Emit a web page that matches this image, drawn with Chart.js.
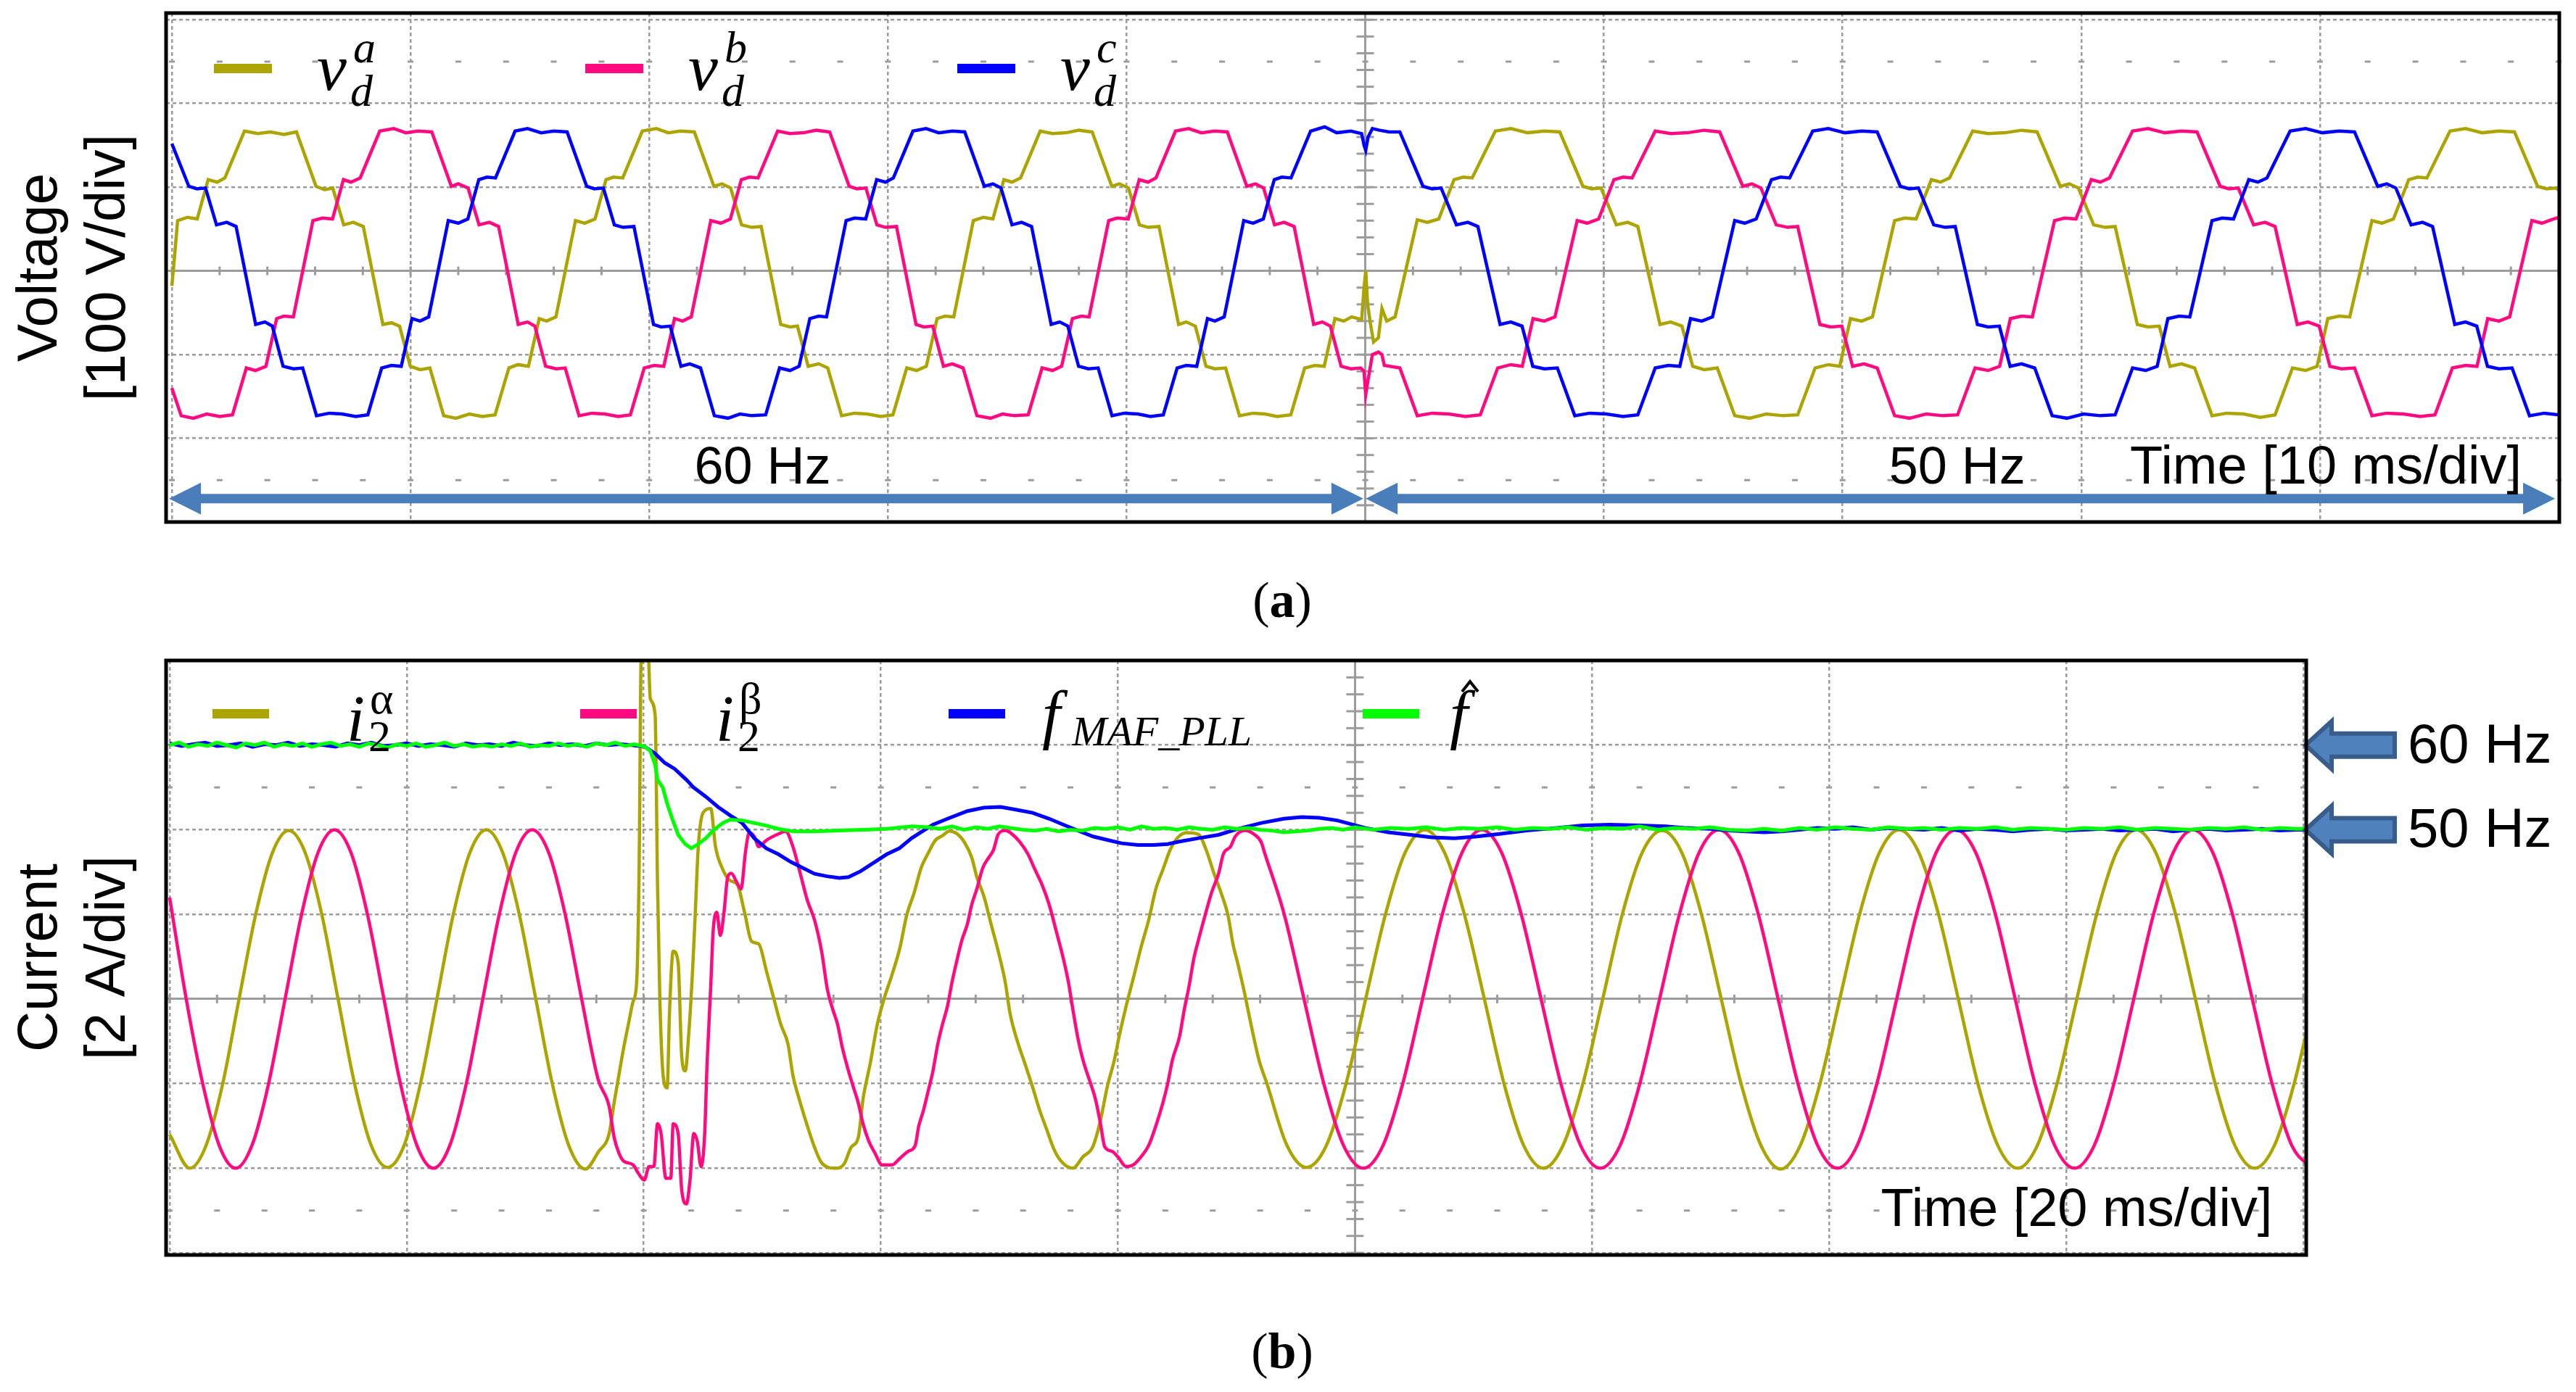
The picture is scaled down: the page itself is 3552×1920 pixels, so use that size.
<!DOCTYPE html>
<html>
<head>
<meta charset="utf-8">
<script src="https://cdn.jsdelivr.net/npm/chart.js@4.4.0/dist/chart.umd.min.js"></script>
<style>
  html, body { margin: 0; padding: 0; background: #fff; }
  body { width: 3552px; height: 1920px; position: relative; overflow: hidden; }
  #wrapA { position: absolute; left: 0; top: 0; width: 3552px; height: 745px; }
  #wrapB { position: absolute; left: 0; top: 880px; width: 3552px; height: 880px; }
  .cap { position: absolute; left: 1618px; width: 300px; text-align: center; font-family: "Liberation Serif"; font-size: 70px; line-height: 70px; color: #000; }
</style>
</head>
<body>
<div id="wrapA"><canvas id="chartA" width="3552" height="745"></canvas></div>
<div class="cap" style="top:793px">(<b>a</b>)</div>
<div id="wrapB"><canvas id="chartB" width="3552" height="880"></canvas></div>
<div class="cap" style="top:1829px">(<b>b</b>)</div>
<script>
// ---- panel (a): grid voltages, 10 ms/div, 100 V/div ----
const voltTicksX = [0, 10, 20, 30, 40, 50, 60, 70, 80, 90, 100];
const voltTicksY = [-300, -200, -100, 0, 100, 200, 300];
const segLabels = ['60 Hz', '50 Hz'];

// [time ms, volts]
const vdA = [[0,-18],[0.12,20],[0.24,60],[0.65,64],[1.06,62],[1.52,109],[1.9,106],[2.22,111],[3.04,167],[3.6,164],[4.13,166],[4.7,163],[5.22,166],[6.04,101],[6.4,97],[6.74,99],[7.2,55],[7.6,58],[8.02,53],[8.84,-64],[9.2,-62],[9.54,-66],[9.99,-114],[10.4,-118],[10.81,-116],[11.39,-173],[11.9,-176],[12.46,-171],[13,-174],[13.54,-172],[14.12,-116],[14.5,-112],[14.94,-114],[15.39,-57],[15.7,-60],[16.09,-55],[16.91,60],[17.3,57],[17.73,62],[18.19,109],[18.5,112],[18.89,111],[19.71,167],[20.3,170],[20.8,165],[21.3,167],[21.89,166],[22.71,101],[23.05,104],[23.41,99],[23.87,55],[24.3,52],[24.69,53],[25.51,-64],[25.9,-67],[26.21,-66],[26.66,-114],[27.1,-111],[27.48,-116],[28.06,-173],[28.6,-170],[29.13,-171],[29.7,-174],[30.21,-172],[30.79,-116],[31.2,-119],[31.61,-114],[32.06,-57],[32.4,-54],[32.76,-55],[33.58,60],[34,64],[34.4,62],[34.86,109],[35.2,106],[35.56,111],[36.38,167],[36.9,164],[37.47,165],[38,168],[38.56,166],[39.38,101],[39.7,104],[40.08,99],[40.54,55],[40.9,52],[41.36,53],[42.18,-64],[42.5,-61],[42.88,-66],[43.33,-114],[43.7,-117],[44.15,-116],[44.73,-173],[45.3,-170],[45.8,-171],[46.3,-174],[46.88,-172],[47.46,-116],[47.9,-113],[48.28,-114],[48.73,-57],[49.1,-60],[49.43,-55],[49.85,-58],[49.95,-20],[50.02,0],[50.1,-40],[50.2,-60],[50.35,-85],[50.55,-80],[50.7,-45],[50.9,-60],[51.25,-55],[52.18,61],[52.6,58],[53.08,62],[53.72,109],[54.1,112],[54.48,111],[55.45,167],[56.1,170],[56.8,165],[57.5,167],[58.15,166],[59.12,101],[59.5,98],[59.88,99],[60.52,55],[61,58],[61.42,53],[62.35,-64],[62.8,-61],[63.27,-66],[63.72,-114],[64.2,-118],[64.75,-116],[65.48,-173],[66.1,-176],[66.8,-171],[67.5,-173],[68.12,-172],[68.85,-116],[69.4,-112],[69.88,-114],[70.33,-57],[70.8,-60],[71.25,-55],[72.18,60],[72.6,63],[73.08,62],[73.72,109],[74.1,106],[74.48,111],[75.45,167],[76.1,164],[76.8,165],[77.5,168],[78.15,166],[79.12,101],[79.5,104],[79.88,99],[80.52,55],[81,52],[81.42,53],[82.35,-64],[82.8,-67],[83.27,-66],[83.72,-114],[84.2,-111],[84.75,-116],[85.48,-173],[86.1,-170],[86.8,-171],[87.5,-175],[88.12,-172],[88.85,-116],[89.4,-119],[89.88,-114],[90.33,-57],[90.8,-54],[91.25,-55],[92.18,60],[92.6,57],[93.08,62],[93.72,109],[94.1,112],[94.48,111],[95.45,167],[96.1,170],[96.8,165],[97.5,167],[98.15,166],[99.12,101],[99.5,98],[99.88,99],[100.03,96]];

const vdB = [[0,-140],[0.39,-173],[0.9,-176],[1.46,-171],[2,-174],[2.54,-172],[3.12,-116],[3.5,-119],[3.94,-114],[4.39,-57],[4.7,-54],[5.09,-55],[5.91,60],[6.3,63],[6.73,62],[7.19,109],[7.5,106],[7.89,111],[8.71,167],[9.3,170],[9.8,165],[10.3,167],[10.89,166],[11.71,101],[12,104],[12.41,99],[12.87,55],[13.3,58],[13.69,53],[14.51,-64],[14.9,-61],[15.21,-66],[15.66,-114],[16.1,-117],[16.48,-116],[17.06,-173],[17.6,-170],[18.13,-171],[18.7,-174],[19.21,-172],[19.79,-116],[20.2,-113],[20.61,-114],[21.06,-57],[21.4,-60],[21.76,-55],[22.58,60],[23,57],[23.4,62],[23.86,109],[24.2,112],[24.56,111],[25.38,167],[25.9,164],[26.47,165],[27,168],[27.56,166],[28.38,101],[28.7,98],[29.08,99],[29.54,55],[29.9,52],[30.36,53],[31.18,-64],[31.5,-67],[31.88,-66],[32.33,-114],[32.7,-111],[33.15,-116],[33.73,-173],[34.3,-176],[34.8,-171],[35.3,-173],[35.88,-172],[36.46,-116],[36.9,-119],[37.28,-114],[37.73,-57],[38.1,-54],[38.43,-55],[39.25,60],[39.6,63],[40.07,62],[40.53,109],[40.9,106],[41.23,111],[42.05,167],[42.6,170],[43.13,165],[43.7,167],[44.22,166],[45.04,101],[45.4,104],[45.74,99],[46.2,55],[46.6,58],[47.02,53],[47.84,-64],[48.2,-61],[48.54,-66],[48.99,-114],[49.4,-117],[49.81,-116],[49.95,-120],[50.02,-148],[50.12,-130],[50.3,-100],[50.55,-97],[50.7,-100],[50.8,-113],[51.45,-116],[52.18,-173],[52.8,-170],[53.5,-171],[54.2,-174],[54.82,-172],[55.55,-116],[56.1,-112],[56.58,-114],[57.03,-57],[57.5,-60],[57.95,-55],[58.88,60],[59.3,57],[59.78,62],[60.42,109],[60.8,112],[61.18,111],[62.15,167],[62.8,164],[63.5,165],[64.2,168],[64.85,166],[65.82,101],[66.2,104],[66.58,99],[67.22,55],[67.7,52],[68.12,53],[69.05,-64],[69.5,-67],[69.97,-66],[70.42,-114],[70.9,-111],[71.45,-116],[72.18,-173],[72.8,-176],[73.5,-171],[74.2,-173],[74.82,-172],[75.55,-116],[76.1,-119],[76.58,-114],[77.03,-57],[77.5,-54],[77.95,-55],[78.88,60],[79.3,63],[79.78,62],[80.42,109],[80.8,106],[81.18,111],[82.15,167],[82.8,170],[83.5,165],[84.2,167],[84.85,166],[85.82,101],[86.2,98],[86.58,99],[87.22,55],[87.7,58],[88.12,53],[89.05,-64],[89.5,-61],[89.97,-66],[90.42,-114],[90.9,-117],[91.45,-116],[92.18,-173],[92.8,-170],[93.5,-171],[94.2,-174],[94.82,-172],[95.55,-116],[96.1,-113],[96.58,-114],[97.03,-57],[97.5,-60],[97.95,-55],[98.88,60],[99.3,57],[99.78,62],[100.03,64]];

const vdC = [[0,152],[0.71,101],[1.05,98],[1.41,99],[1.87,55],[2.3,58],[2.69,53],[3.51,-64],[3.9,-61],[4.21,-66],[4.66,-114],[5.1,-117],[5.48,-116],[6.06,-173],[6.6,-170],[7.13,-171],[7.7,-174],[8.21,-172],[8.79,-116],[9.2,-113],[9.61,-114],[10.06,-57],[10.4,-60],[10.76,-55],[11.58,60],[12,57],[12.4,62],[12.86,109],[13.2,112],[13.56,111],[14.38,167],[14.9,170],[15.47,165],[16,167],[16.56,166],[17.38,101],[17.7,98],[18.08,99],[18.54,55],[18.9,52],[19.36,53],[20.18,-64],[20.5,-67],[20.88,-66],[21.33,-114],[21.7,-111],[22.15,-116],[22.73,-173],[23.3,-176],[23.8,-171],[24.3,-173],[24.88,-172],[25.46,-116],[25.9,-119],[26.28,-114],[26.73,-57],[27.1,-54],[27.43,-55],[28.25,60],[28.6,63],[29.07,62],[29.53,109],[29.9,106],[30.23,111],[31.05,167],[31.6,170],[32.13,165],[32.7,167],[33.22,166],[34.04,101],[34.4,104],[34.74,99],[35.2,55],[35.6,58],[36.02,53],[36.84,-64],[37.2,-61],[37.54,-66],[37.99,-114],[38.4,-117],[38.81,-116],[39.39,-173],[39.9,-170],[40.47,-171],[41,-174],[41.54,-172],[42.12,-116],[42.5,-113],[42.94,-114],[43.39,-57],[43.7,-60],[44.09,-55],[44.91,60],[45.3,57],[45.73,62],[46.19,109],[46.5,112],[46.89,111],[47.71,167],[48.3,172],[48.8,165],[49.4,167],[49.85,164],[49.95,150],[50.02,144],[50.12,160],[50.3,170],[50.6,168],[51,166],[51.45,166],[52.42,101],[52.8,98],[53.18,99],[53.82,55],[54.3,58],[54.72,53],[55.65,-64],[56.1,-61],[56.57,-66],[57.02,-114],[57.5,-117],[58.05,-116],[58.78,-173],[59.4,-170],[60.1,-171],[60.8,-174],[61.42,-172],[62.15,-116],[62.7,-113],[63.18,-114],[63.63,-57],[64.1,-60],[64.55,-55],[65.48,60],[65.9,57],[66.38,62],[67.02,109],[67.4,112],[67.78,111],[68.75,167],[69.4,170],[70.1,165],[70.8,167],[71.45,166],[72.42,101],[72.8,98],[73.18,99],[73.82,55],[74.3,52],[74.72,53],[75.65,-64],[76.1,-67],[76.57,-66],[77.02,-114],[77.5,-111],[78.05,-116],[78.78,-173],[79.4,-176],[80.1,-171],[80.8,-173],[81.42,-172],[82.15,-116],[82.7,-119],[83.18,-114],[83.63,-57],[84.1,-54],[84.55,-55],[85.48,60],[85.9,63],[86.38,62],[87.02,109],[87.4,106],[87.78,111],[88.75,167],[89.4,170],[90.1,165],[90.8,167],[91.45,166],[92.42,101],[92.8,104],[93.18,99],[93.82,55],[94.3,58],[94.72,53],[95.65,-64],[96.1,-61],[96.57,-66],[97.02,-114],[97.5,-117],[98.05,-116],[98.78,-173],[99.4,-170],[100.03,-172]];

// ---- panel (b): currents 2 A/div, frequencies 10 Hz/div, 20 ms/div ----
const curTicksX = [0, 20, 40, 60, 80, 100, 120, 140, 160, 180];
const curTicksY = [-6, -4, -2, 0, 2, 4, 6, 8];
const freqMarks = [60, 50];

// [time ms, amps]
const i2Alpha = [[0,-3.2],[1.7,-4],[3.09,-3.45],[4.48,-2],[5.87,0.02],[7.26,2],[8.65,3.44],[10.04,3.98],[11.43,3.46],[12.82,2.02],[14.21,0],[15.6,-2],[16.99,-3.45],[18.38,-3.98],[19.77,-3.47],[21.16,-2],[22.55,0],[23.94,2.01],[25.33,3.46],[26.72,4],[28.11,3.45],[29.5,2],[30.89,0],[32.28,-2],[33.67,-3.46],[35.06,-4.02],[36.2,-3.6],[37.08,-3.18],[37.5,-2.45],[37.9,-1.8],[38.3,-1.16],[38.7,-0.6],[39.1,-0.06],[39.4,0.4],[39.6,2.9],[39.8,8.3],[40.35,8.3],[40.55,7.1],[40.96,6.7],[41.16,2.7],[41.36,-0.06],[41.67,-1.9],[41.97,-2.1],[42.18,-0.25],[42.48,1.13],[42.9,0.86],[43.2,-1.35],[43.5,-1.7],[43.8,-0.8],[44.1,0.58],[44.32,1.87],[44.6,3.6],[45,4.4],[45.65,4.5],[46.05,3.6],[46.67,3.06],[47.28,2.8],[47.9,2.7],[48.5,2.05],[49.1,1.36],[49.7,1.3],[50.34,0.67],[50.95,0.03],[51.56,-0.6],[52.17,-1.07],[52.58,-1.8],[53.2,-2.45],[53.8,-3],[54.4,-3.5],[55,-3.87],[56.15,-4],[56.9,-3.9],[57.5,-3.5],[58.1,-3.27],[58.5,-2.36],[59.1,-1.53],[59.7,-0.6],[60.3,0.03],[60.95,0.58],[61.6,1.2],[62.2,2],[62.8,2.5],[63.4,3.1],[64,3.45],[64.6,3.75],[65.2,3.86],[65.8,3.97],[66.45,3.9],[67.06,3.7],[67.67,3.34],[68.1,2.88],[68.7,2.42],[69.3,1.77],[69.9,1.13],[70.5,0.39],[70.9,-0.34],[71.5,-0.98],[72.16,-1.53],[72.8,-2.08],[73.4,-2.63],[74,-3.09],[74.6,-3.55],[75.2,-3.83],[76.2,-4],[77.05,-3.73],[77.87,-3.5],[78.5,-2.9],[79.1,-2.08],[79.7,-1.44],[80.1,-0.89],[80.7,-0.16],[81.3,0.49],[81.95,1.22],[82.6,1.87],[83.2,2.6],[83.8,3.06],[84.4,3.52],[85,3.8],[85.8,3.93],[86.8,3.89],[87.45,3.52],[88.1,2.97],[88.7,2.51],[89.3,1.96],[89.7,1.31],[90.1,0.85],[90.7,0.12],[91.1,-0.43],[91.9,-1.44],[92.57,-2],[94.23,-3.44],[95.9,-3.98],[97.57,-3.47],[99.23,-2.02],[100.9,0],[102.57,2],[104.23,3.46],[105.9,4],[107.57,3.45],[109.23,2],[110.9,0.02],[112.57,-2],[114.23,-3.46],[115.9,-4],[117.57,-3.45],[119.23,-2],[120.9,0],[122.57,2.02],[124.23,3.46],[125.9,3.98],[127.57,3.46],[129.23,2],[130.9,0],[132.57,-2],[134.23,-3.45],[135.9,-4.02],[137.57,-3.46],[139.23,-2],[140.9,0],[142.57,2],[144.23,3.45],[145.9,4],[147.57,3.46],[149.23,2],[150.9,0],[152.57,-2.02],[154.23,-3.46],[155.9,-4],[157.57,-3.46],[159.23,-2],[160.9,0],[162.57,2],[164.23,3.46],[165.9,4],[167.57,3.45],[169.23,2],[170.9,0],[172.57,-2],[174.23,-3.46],[175.9,-4],[177.57,-3.46],[179.23,-2],[180.9,0]];

const i2Beta = [[0,2.4],[1.4,0],[2.79,-2],[4.18,-3.46],[5.57,-4],[6.96,-3.45],[8.35,-2],[9.74,0],[11.13,2],[12.52,3.46],[13.91,4],[15.3,3.46],[16.69,2],[18.08,0],[19.47,-2],[20.86,-3.46],[22.25,-4],[23.64,-3.46],[25.03,-2],[26.42,0],[27.81,2],[29.2,3.46],[30.59,4],[31.98,3.46],[33.37,2],[34.76,0],[36.15,-1.9],[37.08,-2.54],[37.5,-3.27],[37.9,-3.64],[38.3,-3.83],[39.1,-3.92],[39.5,-4.1],[40.04,-4.28],[40.45,-3.96],[40.85,-3.96],[41.16,-2.95],[41.46,-3.18],[41.87,-4.24],[42.28,-4.24],[42.48,-2.95],[42.9,-3.18],[43.2,-4.51],[43.6,-4.84],[43.9,-4.28],[44.22,-3.18],[44.52,-3.37],[44.83,-3.96],[45.14,-3.18],[45.34,-1.53],[45.65,0.3],[45.85,1.59],[46.16,2.05],[46.46,1.5],[46.77,2.05],[47.08,2.88],[47.38,2.97],[47.79,2.79],[48.2,2.6],[48.6,3.52],[48.9,3.93],[49.32,3.84],[49.7,3.6],[50.34,3.75],[51.36,3.9],[51.97,3.96],[52.58,3.6],[53.2,2.97],[53.8,2.33],[54.4,1.87],[55,1.13],[55.5,0.21],[55.95,-0.25],[56.35,-0.6],[56.76,-1.16],[57.27,-1.7],[57.68,-2.08],[58.09,-2.45],[58.5,-2.95],[59,-3.37],[59.5,-3.64],[60.1,-3.92],[60.95,-3.92],[61.56,-3.78],[62.3,-3.6],[62.9,-3.46],[63.2,-3],[63.6,-2.63],[64,-2.17],[64.4,-1.7],[64.8,-1.07],[65.2,-0.6],[65.63,-0.16],[66,0.39],[66.45,0.95],[66.85,1.4],[67.3,1.77],[67.67,2.23],[68.1,2.6],[68.6,3.1],[69.1,3.34],[69.5,3.52],[69.9,3.89],[70.5,3.98],[71.1,3.89],[71.75,3.7],[72.4,3.43],[73,3.06],[73.6,2.7],[74.2,2.23],[74.8,1.6],[75.4,0.95],[75.83,0.39],[76.2,-0.25],[76.6,-0.89],[77.05,-1.44],[77.7,-2],[78.1,-2.36],[78.5,-2.9],[78.9,-3.5],[79.5,-3.6],[80,-3.73],[80.7,-3.96],[81.3,-3.92],[81.95,-3.73],[82.6,-3.46],[83.2,-3],[83.8,-2.45],[84.2,-2],[84.6,-1.44],[85.2,-0.89],[85.6,-0.25],[86,0.3],[86.4,0.95],[86.8,1.4],[87.25,1.87],[87.9,2.51],[88.5,2.97],[88.9,3.43],[89.5,3.6],[89.9,3.84],[90.7,3.98],[91.5,3.89],[92.1,3.7],[92.37,3.46],[94.03,2],[95.7,0],[97.37,-2],[99.03,-3.46],[100.7,-4],[102.37,-3.46],[104.03,-2],[105.7,0],[107.37,2],[109.03,3.46],[110.7,4],[112.37,3.46],[114.03,2],[115.7,0],[117.37,-2],[119.03,-3.46],[120.7,-4],[122.37,-3.46],[124.03,-2],[125.7,0],[127.37,2],[129.03,3.46],[130.7,4],[132.37,3.46],[134.03,2],[135.7,0],[137.37,-2],[139.03,-3.46],[140.7,-4],[142.37,-3.46],[144.03,-2],[145.7,0],[147.37,2],[149.03,3.46],[150.7,4],[152.37,3.46],[154.03,2],[155.7,0],[157.37,-2],[159.03,-3.46],[160.7,-4],[162.37,-3.46],[164.03,-2],[165.7,0],[167.37,2],[169.03,3.46],[170.7,4],[172.37,3.46],[174.03,2],[175.7,0],[177.37,-2],[179.03,-3.46],[180.7,-4]];

// [time ms, Hz]
const fMafPll = [[0,60.2],[1,59.9],[2,60.1],[3,60.3],[4,59.9],[5,60],[6,60.2],[7,59.8],[8,60.1],[9,60],[10,60.3],[11,59.9],[12,60.1],[13,60],[14,59.8],[15,60.2],[16,60],[17,60.3],[18,59.9],[19,60],[20,60.2],[21,59.9],[22,60.1],[23,60],[24,59.8],[25,60.2],[26,60],[27,60.1],[28,59.9],[29,60.3],[30,60],[31,59.9],[32,60.2],[33,60],[34,60.1],[35,59.9],[36,60.2],[37,60],[38,60.1],[39,60],[40.1,59.8],[40.96,59],[41.77,57.9],[42.6,57.2],[43.6,55.9],[44.2,55],[45.24,53.9],[46.26,52.7],[47.28,51.7],[48.3,50.8],[49.32,49],[50.34,47.8],[51.36,47.1],[52.4,46.2],[53.4,45.5],[54.4,44.8],[55.44,44.5],[56.5,44.3],[57.27,44.4],[58.3,45.1],[59.5,46.2],[60.5,47.1],[61.56,47.8],[62.6,49],[63.6,49.9],[64.4,50.6],[65.63,51.3],[67.3,52.2],[68.7,52.6],[70.1,52.7],[71.3,52.4],[72.8,52],[74.2,51.3],[75.4,50.6],[76.8,49.8],[77.9,49.2],[79.1,48.8],[80.3,48.4],[81.7,48.2],[83,48.2],[84.2,48.3],[85.2,48.6],[86.8,49],[88.5,49.4],[90.1,50.1],[92.1,50.8],[94,51.3],[95.5,51.5],[97,51.4],[98.5,51.1],[100.9,50.2],[102.8,49.7],[104.7,49.4],[106.5,49.1],[108.4,49],[110.3,49.2],[112.2,49.5],[114.5,49.9],[116.9,50.2],[119.2,50.5],[121.5,50.6],[124,50.5],[126.2,50.4],[128,50.2],[130,50.1],[131.5,49.9],[133,49.8],[134.5,49.7],[136,49.8],[137.5,50],[139,50.2],[140.5,50.1],[142,50.3],[143.5,50],[145,50.2],[146.5,50.1],[148,50],[149.5,50.2],[151,49.9],[152.5,50.1],[154,50],[155.5,49.8],[157,50],[158.5,50.1],[160,49.9],[161.5,50],[163,50.1],[164.5,49.9],[166,50],[167.5,50.1],[169,49.8],[170.5,50],[172,50.1],[173.5,49.9],[175,50],[176.5,50.1],[178,49.9],[179.5,50],[180.25,50]];

const fHat = [[0,60],[0.8,60.3],[1.6,59.8],[2.4,60.1],[3.2,59.9],[4,60.3],[4.8,60],[5.6,59.7],[6.4,60.2],[7.2,60],[8,60.3],[8.8,59.8],[9.6,60.1],[10.4,59.9],[11.2,60.2],[12,59.8],[12.8,60.1],[13.6,60.3],[14.4,59.9],[15.2,60.1],[16,59.8],[16.8,60.2],[17.6,60],[18.4,59.7],[19.2,60.1],[20,59.9],[20.8,60.2],[21.6,59.8],[22.4,60],[23.2,60.3],[24,59.9],[24.8,60.1],[25.6,59.8],[26.4,60],[27.2,59.8],[28,60.1],[28.8,59.9],[29.6,60.2],[30.4,59.8],[31.2,60],[32,59.9],[32.8,60.2],[33.6,59.9],[34.4,60.1],[35.2,59.8],[36,60.2],[36.8,60],[37.6,60.3],[38.4,59.9],[39.2,60.1],[40.1,59.8],[40.55,59.3],[40.96,57.7],[41.16,55.9],[41.6,55],[41.97,53.1],[42.4,51.3],[42.9,49.4],[43.5,48.3],[44,47.8],[44.6,48.3],[45.24,49],[45.85,49.9],[46.67,50.8],[47.28,51.2],[48.3,51.1],[49.3,50.8],[50.3,50.5],[51.36,50.1],[52.58,49.8],[54.4,49.8],[56.5,49.9],[58.5,50],[60.5,50.1],[62.6,50.4],[64,50.3],[65,50.1],[66,50.4],[67,50],[68,50.3],[69,50.1],[70,50.4],[71,50.2],[72,50],[73,49.9],[74,50.1],[75,49.8],[76,50],[77,49.9],[78,50.2],[79,50.1],[80,50.3],[81,50],[82,50.4],[83,50.1],[84,50.2],[85,50],[86,50.3],[87,50.1],[88,50],[89,50.3],[90,50.1],[91,50.2],[92,50],[93,49.9],[94,49.7],[95,49.8],[96,49.9],[97,50.1],[98,50.2],[99,50],[100,50.3],[101.5,50],[103,50.2],[104.5,50.1],[106,50.3],[107.5,50],[109,50.2],[110.5,50.1],[112,50.3],[113.5,50],[115,50.2],[116.5,50.1],[118,50.3],[119.5,50],[121,50.2],[122.5,50.1],[124,50.4],[125.5,50],[127,50.2],[128.5,50.1],[130,50.3],[131.5,50],[133,49.9],[134.5,50.1],[136,49.9],[137.5,50.2],[139,50],[140.5,50.3],[142,50.1],[143.5,50],[145,50.3],[146.5,50.1],[148,50.2],[149.5,50],[151,50.2],[152.5,50.1],[154,50.3],[155.5,50],[157,50.2],[158.5,50.1],[160,50],[161.5,50.2],[163,50.1],[164.5,50.3],[166,50],[167.5,50.2],[169,50.1],[170.5,50],[172,50.2],[173.5,50.1],[175,50.3],[176.5,50],[178,50.2],[179.5,50.1],[180.25,50.1]];

const OLIVE = '#aca400';
const PINK = '#ff0a80';
const BLUE = '#0000ff';
const GREEN = '#00ff00';
const GRID = '#9c9c9c';

const toXY = (arr) => arr.map(([x, y]) => ({ x, y }));
const setTicks = (vals) => (s) => { s.ticks = vals.map(v => ({ value: v })); };

const gridOpts = (mid) => ({
  color: GRID,
  lineWidth: (c) => (c.tick && c.tick.value === mid ? 3 : 2.5),
  drawTicks: false,
});
const borderOpts = (mid) => ({
  display: false,
  dash: (c) => (c.tick && c.tick.value === mid ? [] : [5, 4]),
});

// black screen frame
const frame = {
  id: 'frame',
  afterDraw(chart) {
    const { ctx, chartArea: a } = chart;
    ctx.save();
    ctx.strokeStyle = '#000';
    ctx.lineWidth = 5;
    ctx.strokeRect(a.left, a.top, a.right - a.left, a.bottom - a.top);
    ctx.restore();
  }
};

// minor graticule marks of the scope
const graticule = {
  id: 'graticule',
  beforeDatasetsDraw(chart, args, o) {
    const { ctx, scales: { x, y } } = chart;
    const cx = x.getPixelForValue(o.xMid), cy = y.getPixelForValue(0);
    ctx.save();
    ctx.fillStyle = GRID;
    for (let k = Math.ceil(x.min / o.xMinor); k * o.xMinor <= x.max; k++) {
      const px = x.getPixelForValue(k * o.xMinor);
      ctx.fillRect(px - 1.5, cy - 6, 3, 12);
      o.rows.forEach(r => ctx.fillRect(px - 4, y.getPixelForValue(r) - 1.5, 8, 3));
    }
    for (let k = Math.ceil(y.min / o.yMinor); k * o.yMinor <= y.max; k++) {
      const py = y.getPixelForValue(k * o.yMinor);
      ctx.fillRect(cx - 12, py - 1.5, 24, 3);
    }
    ctx.restore();
  }
};

function dblArrow(ctx, x0, x1, y, shaft, hl, hh) {
  ctx.beginPath();
  ctx.moveTo(x0, y);
  ctx.lineTo(x0 + hl, y - hh);
  ctx.lineTo(x0 + hl, y - shaft / 2);
  ctx.lineTo(x1 - hl, y - shaft / 2);
  ctx.lineTo(x1 - hl, y - hh);
  ctx.lineTo(x1, y);
  ctx.lineTo(x1 - hl, y + hh);
  ctx.lineTo(x1 - hl, y + shaft / 2);
  ctx.lineTo(x0 + hl, y + shaft / 2);
  ctx.lineTo(x0 + hl, y + hh);
  ctx.closePath();
  ctx.fill();
}

// legend, section arrows and labels of panel (a)
const notesA = {
  id: 'notesA',
  afterDatasetsDraw(chart) {
    const { ctx, scales: { x, y } } = chart;
    ctx.save();
    // legend
    const sups = ['a', 'b', 'c'];
    const lx = [295, 807, 1320];
    chart.data.datasets.forEach((ds, i) => {
      ctx.fillStyle = ds.borderColor;
      ctx.fillRect(lx[i], 88, 80, 13);
      ctx.fillStyle = '#000';
      ctx.textBaseline = 'alphabetic';
      ctx.textAlign = 'left';
      ctx.font = 'italic 92px "Liberation Serif"';
      ctx.fillText('v', lx[i] + 142, 124);
      ctx.font = 'italic 62px "Liberation Serif"';
      ctx.fillText('d', lx[i] + 188, 146);
      ctx.fillText(sups[i], lx[i] + 192, 86);
    });
    // 60 Hz / 50 Hz spans
    const ay = y.getPixelForValue(-272);
    ctx.fillStyle = '#4a7ebb';
    dblArrow(ctx, x.getPixelForValue(-0.12), x.getPixelForValue(49.92), ay, 13, 44, 22);
    dblArrow(ctx, x.getPixelForValue(50.02), x.getPixelForValue(99.85), ay, 13, 44, 22);
    ctx.fillStyle = '#000';
    ctx.font = '72px "Liberation Sans"';
    ctx.textAlign = 'center';
    const ty = y.getPixelForValue(-254);
    ctx.fillText(segLabels[0], x.getPixelForValue(24.75), ty);
    ctx.fillText(segLabels[1], x.getPixelForValue(74.8), ty);
    ctx.textAlign = 'right';
    ctx.font = '74px "Liberation Sans"';
    ctx.fillText('Time [10 ms/div]', x.getPixelForValue(98.45), ty);
    ctx.restore();
  }
};

// legend, frequency markers and time label of panel (b)
const notesB = {
  id: 'notesB',
  afterDatasetsDraw(chart) {
    const { ctx, chartArea: a, scales: { x, y, y2 } } = chart;
    ctx.save();
    const lx = [293, 800, 1308, 1879];
    chart.data.datasets.forEach((ds, i) => {
      ctx.fillStyle = ds.borderColor;
      ctx.fillRect(lx[i], 98, 78, 13);
    });
    ctx.fillStyle = '#000';
    ctx.textAlign = 'left';
    ctx.textBaseline = 'alphabetic';
    [['\u03b1', 478], ['\u03b2', 987]].forEach(([g, px]) => {
      ctx.font = 'italic 90px "Liberation Serif"';
      ctx.fillText('i', px, 142);
      ctx.font = '62px "Liberation Serif"';
      ctx.fillText('2', px + 30, 156);
      ctx.fillText(g, px + 32, 104);
    });
    ctx.font = 'italic 90px "Liberation Serif"';
    ctx.fillText('f', 1437, 136);
    ctx.fillText('f', 1999, 136);
    ctx.font = 'italic 58px "Liberation Serif"';
    ctx.fillText('MAF_PLL', 1478, 148);
    ctx.lineWidth = 4;
    ctx.strokeStyle = '#000';
    ctx.beginPath();
    ctx.moveTo(2016, 74); ctx.lineTo(2027, 60); ctx.lineTo(2038, 74);
    ctx.stroke();
    // time label
    ctx.textAlign = 'right';
    ctx.font = '74px "Liberation Sans"';
    ctx.fillText('Time [20 ms/div]', x.getPixelForValue(177.4), y.getPixelForValue(-5.36));
    // 60 / 50 Hz markers on the right
    freqMarks.forEach(f => {
      const py = y2.getPixelForValue(f);
      const tip = a.right - 1;
      ctx.beginPath();
      ctx.moveTo(tip, py);
      ctx.lineTo(tip + 36, py - 33);
      ctx.lineTo(tip + 36, py - 16);
      ctx.lineTo(tip + 123, py - 16);
      ctx.lineTo(tip + 123, py + 16);
      ctx.lineTo(tip + 36, py + 16);
      ctx.lineTo(tip + 36, py + 33);
      ctx.closePath();
      ctx.fillStyle = '#4f81bd';
      ctx.fill();
      ctx.strokeStyle = '#385d8a';
      ctx.lineWidth = 6;
      ctx.stroke();
      ctx.fillStyle = '#000';
      ctx.font = '76px "Liberation Sans"';
      ctx.textAlign = 'left';
      ctx.textBaseline = 'middle';
      ctx.fillText(f + ' Hz', tip + 141, py + 3);
    });
    ctx.restore();
  }
};

const trace = (label, data, color, order, extra) => Object.assign({
  label, data: toXY(data), borderColor: color, backgroundColor: color,
  borderWidth: 4.5, pointRadius: 0, tension: 0, order,
}, extra || {});

const axisTitle = (text) => ({
  display: true, text, color: '#000',
  font: { family: 'Liberation Sans', size: 78 },
  padding: { top: 10, bottom: 0 },
});

new Chart(document.getElementById('chartA'), {
  type: 'line',
  data: {
    datasets: [
      trace('v_d^a', vdA, OLIVE, 2),
      trace('v_d^b', vdB, PINK, 1),
      trace('v_d^c', vdC, BLUE, 0),
    ],
  },
  options: {
    responsive: false, animation: false, devicePixelRatio: 1,
    layout: { padding: { top: 18, right: 23, bottom: 25, left: 0 } },
    plugins: {
      legend: { display: false }, tooltip: { enabled: false },
      graticule: { xMid: 50, xMinor: 2, yMinor: 20, rows: [-250, 250] },
    },
    scales: {
      x: {
        type: 'linear', min: -0.243, max: 100.03,
        afterBuildTicks: setTicks(voltTicksX), afterFit: (s) => { s.height = 0; },
        ticks: { display: false }, grid: gridOpts(50), border: borderOpts(50),
      },
      y: {
        min: -300, max: 308,
        afterBuildTicks: setTicks(voltTicksY), afterFit: (s) => { s.width = 229; },
        ticks: { display: false }, grid: gridOpts(0), border: borderOpts(0),
        title: axisTitle(['Voltage', '[100 V/div]']),
      },
    },
  },
  plugins: [graticule, notesA, frame],
});

new Chart(document.getElementById('chartB'), {
  type: 'line',
  data: {
    datasets: [
      trace('i2 alpha', i2Alpha, OLIVE, 3, { cubicInterpolationMode: 'monotone' }),
      trace('i2 beta', i2Beta, PINK, 2, { cubicInterpolationMode: 'monotone' }),
      trace('f MAF_PLL', fMafPll, BLUE, 1, { yAxisID: 'y2', borderWidth: 5 }),
      trace('f hat', fHat, GREEN, 0, { yAxisID: 'y2', borderWidth: 5 }),
    ],
  },
  options: {
    responsive: false, animation: false, devicePixelRatio: 1,
    layout: { padding: { top: 31, right: 372, bottom: 29, left: 0 } },
    plugins: {
      legend: { display: false }, tooltip: { enabled: false },
      graticule: { xMid: 100, xMinor: 4, yMinor: 0.4, rows: [-5, 5] },
    },
    scales: {
      x: {
        type: 'linear', min: -0.3, max: 180.25,
        afterBuildTicks: setTicks(curTicksX), afterFit: (s) => { s.height = 0; },
        ticks: { display: false }, grid: gridOpts(100), border: borderOpts(100),
      },
      y: {
        min: -6.05, max: 8,
        afterBuildTicks: setTicks(curTicksY), afterFit: (s) => { s.width = 229; },
        ticks: { display: false }, grid: gridOpts(0), border: borderOpts(0),
        title: axisTitle(['Current', '[2 A/div]']),
      },
      y2: { display: false, position: 'right', min: -0.25, max: 70 },
    },
  },
  plugins: [graticule, notesB, frame],
});
</script>
</body>
</html>
